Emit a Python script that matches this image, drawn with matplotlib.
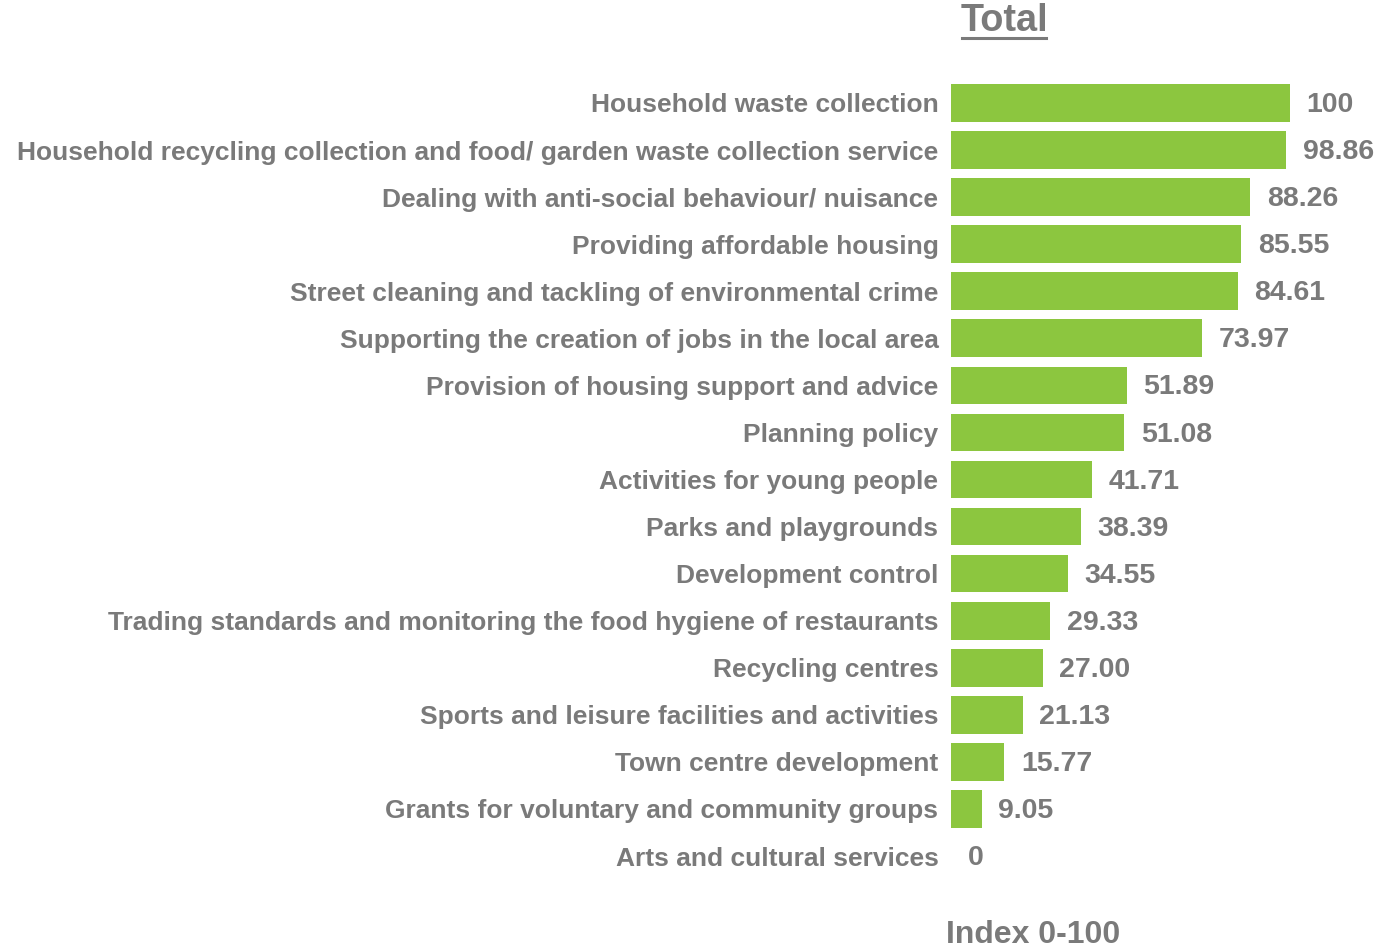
import matplotlib
matplotlib.use("Agg")
import matplotlib.pyplot as plt

plt.rcParams['font.family'] = ['Liberation Sans', 'DejaVu Sans']

categories = [
    "Household waste collection",
    "Household recycling collection and food/ garden waste collection service",
    "Dealing with anti-social behaviour/ nuisance",
    "Providing affordable housing",
    "Street cleaning and tackling of environmental crime",
    "Supporting the creation of jobs in the local area",
    "Provision of housing support and advice",
    "Planning policy",
    "Activities for young people",
    "Parks and playgrounds",
    "Development control",
    "Trading standards and monitoring the food hygiene of restaurants",
    "Recycling centres",
    "Sports and leisure facilities and activities",
    "Town centre development",
    "Grants for voluntary and community groups",
    "Arts and cultural services",
]
value_labels = ["100", "98.86", "88.26", "85.55", "84.61", "73.97", "51.89", "51.08",
                "41.71", "38.39", "34.55", "29.33", "27.00", "21.13", "15.77", "9.05", "0"]
values = [float(v) for v in value_labels]

title = "Total"
axis_label = "Index 0-100"

BAR = "#8CC63F"
TEXT = "#7a7a7a"

W, H = 1376, 950
fig = plt.figure(figsize=(W / 100, H / 100), dpi=100)

# axes spans from the bar baseline to the right edge
x0, x1 = 951, 1376
y_top, y_bot = 80, 880
ax = fig.add_axes([x0 / W, 1 - y_bot / H, (x1 - x0) / W, (y_bot - y_top) / H])
px_per_unit = (1290 - 951) / 100.0
ax.set_xlim(0, (x1 - x0) / px_per_unit)
row_px = (856 - 103) / 16.0
ax.set_ylim((y_bot - 103) / row_px, (y_top - 103) / row_px)

pos = list(range(len(categories)))
ax.barh(pos, values, height=0.8, color=BAR)

for p, v, lab in zip(pos, values, value_labels):
    ax.annotate(lab, (v, p), xytext=(12, -1.5), textcoords="offset points",
                ha="left", va="center", fontsize=20.5, fontweight="bold", color=TEXT)

ax.set_yticks(pos)
ax.set_yticklabels(categories, fontsize=19, fontweight="bold", color=TEXT)
ax.tick_params(axis="y", length=0, pad=9)
ax.set_xticks([])
for s in ax.spines.values():
    s.set_visible(False)

fig.text(1004 / W, 1 - 21 / H, title, ha="center", va="center", fontsize=27.3,
         fontweight="bold", color=TEXT)
# underline beneath the title
fig.add_artist(plt.Line2D([962 / W, 1046 / W], [1 - 38 / H, 1 - 38 / H],
                          color=TEXT, lw=2.2))

fig.text(1033 / W, 1 - 935 / H, axis_label, ha="center", va="center", fontsize=23,
         fontweight="bold", color=TEXT)

fig.savefig("out.png", dpi=100, facecolor="white")
